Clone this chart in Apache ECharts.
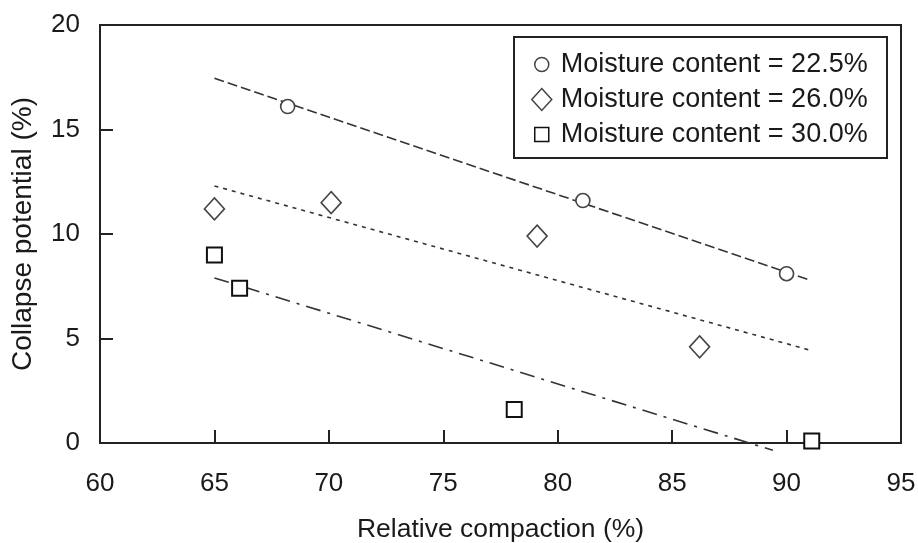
<!DOCTYPE html>
<html>
<head>
<meta charset="utf-8">
<script src="https://cdn.jsdelivr.net/npm/echarts@6/dist/echarts.min.js"></script>
<style>
  html, body { margin: 0; padding: 0; background: #fff; }
  #chart { width: 918px; height: 543px; }
</style>
</head>
<body>
<div id="chart"></div>
<script>
// Measured collapse potential vs. relative compaction, three moisture contents
const seriesNames = ['Moisture content = 22.5%', 'Moisture content = 26.0%', 'Moisture content = 30.0%'];

const compaction225 = [68.2, 81.1, 90.0];
const collapse225   = [16.1, 11.6, 8.1];

const compaction260 = [65.0, 70.1, 79.1, 86.2];
const collapse260   = [11.2, 11.5, 9.9, 4.6];

const compaction300 = [65.0, 66.1, 78.1, 91.1];
const collapse300   = [9.0, 7.4, 1.6, 0.1];

// Fitted trend lines (end points)
const fitX225 = [65.0, 91.0];
const fitY225 = [17.45, 7.8];
const fitX260 = [65.0, 91.0];
const fitY260 = [12.3, 4.45];
const fitX300 = [65.0, 89.4];
const fitY300 = [7.9, -0.35];

const xTicks = [60, 65, 70, 75, 80, 85, 90, 95];
const yTicks = [0, 5, 10, 15, 20];

const pairs = (xs, ys) => xs.map((x, i) => [x, ys[i]]);

const FONT = '"Liberation Sans", Arial, sans-serif';
const INK = '#1a1a1a';

const chart = echarts.init(document.getElementById('chart'), null, { renderer: 'canvas' });

// one legend per entry so each marker keeps its own size
function legendFor(name, top, left, w, h, textPad) {
  return {
    orient: 'vertical',
    top: top,
    left: left,
    padding: 0,
    selectedMode: false,
    itemWidth: w,
    itemHeight: h,
    textStyle: { fontFamily: FONT, fontSize: 27, color: INK, padding: [0, 0, 0, textPad] },
    itemStyle: { borderWidth: 1.5 },
    data: [name]
  };
}

chart.setOption({
  animation: false,
  backgroundColor: '#fff',
  grid: {
    left: 100, top: 25, right: 17, bottom: 100,
    outerBoundsMode: 'none', containLabel: false,
    show: true, borderColor: '#222', borderWidth: 2
  },
  xAxis: {
    type: 'value',
    min: xTicks[0], max: xTicks[xTicks.length - 1], interval: 5,
    name: 'Relative compaction (%)',
    nameLocation: 'middle', nameGap: 73,
    nameTextStyle: { fontFamily: FONT, fontSize: 26.5, color: INK },
    axisLine: { lineStyle: { color: '#222', width: 2 } },
    axisTick: { inside: true, length: 13, lineStyle: { color: '#222', width: 2 } },
    axisLabel: { fontFamily: FONT, fontSize: 26, color: INK, margin: 28 },
    splitLine: { show: false }
  },
  yAxis: {
    type: 'value',
    min: yTicks[0], max: yTicks[yTicks.length - 1], interval: 5,
    name: 'Collapse potential (%)',
    nameLocation: 'middle', nameGap: 63,
    nameTextStyle: { fontFamily: FONT, fontSize: 28, color: INK },
    axisLine: { lineStyle: { color: '#222', width: 2 } },
    axisTick: { inside: true, length: 13, lineStyle: { color: '#222', width: 2 } },
    axisLabel: { fontFamily: FONT, fontSize: 26, color: INK, margin: 20 },
    splitLine: { show: false }
  },
  legend: [
    legendFor(seriesNames[0], 51, 534, 14, 14, 7),
    legendFor(seriesNames[1], 86, 531, 20, 22, 4),
    legendFor(seriesNames[2], 121, 534, 14, 14, 7)
  ],
  graphic: [{
    type: 'rect',
    shape: { x: 514, y: 37, width: 373, height: 121 },
    style: { fill: 'none', stroke: '#222', lineWidth: 2 },
    z: 10
  }],
  series: [
    {
      type: 'line', data: pairs(fitX225, fitY225), symbol: 'none', clip: false, silent: true,
      lineStyle: { color: '#333', width: 1.6, type: [10, 4] }, z: 2
    },
    {
      type: 'line', data: pairs(fitX260, fitY260), symbol: 'none', clip: false, silent: true,
      lineStyle: { color: '#333', width: 1.6, type: [4, 5] }, z: 2
    },
    {
      type: 'line', data: pairs(fitX300, fitY300), symbol: 'none', clip: false, silent: true,
      lineStyle: { color: '#333', width: 1.6, type: [15, 7, 3, 7] }, z: 2
    },
    {
      name: seriesNames[0], type: 'scatter', data: pairs(compaction225, collapse225),
      symbol: 'circle', symbolSize: 14,
      itemStyle: { color: '#fff', borderColor: '#444', borderWidth: 1.6, opacity: 1 }, z: 5
    },
    {
      name: seriesNames[1], type: 'scatter', data: pairs(compaction260, collapse260),
      symbol: 'diamond', symbolSize: [20, 22],
      itemStyle: { color: '#fff', borderColor: '#444', borderWidth: 1.6, opacity: 1 }, z: 5
    },
    {
      name: seriesNames[2], type: 'scatter', data: pairs(compaction300, collapse300),
      symbol: 'rect', symbolSize: 15, clip: false,
      itemStyle: { color: '#fff', borderColor: '#111', borderWidth: 2, opacity: 1 }, z: 5
    }
  ]
});
</script>
</body>
</html>
